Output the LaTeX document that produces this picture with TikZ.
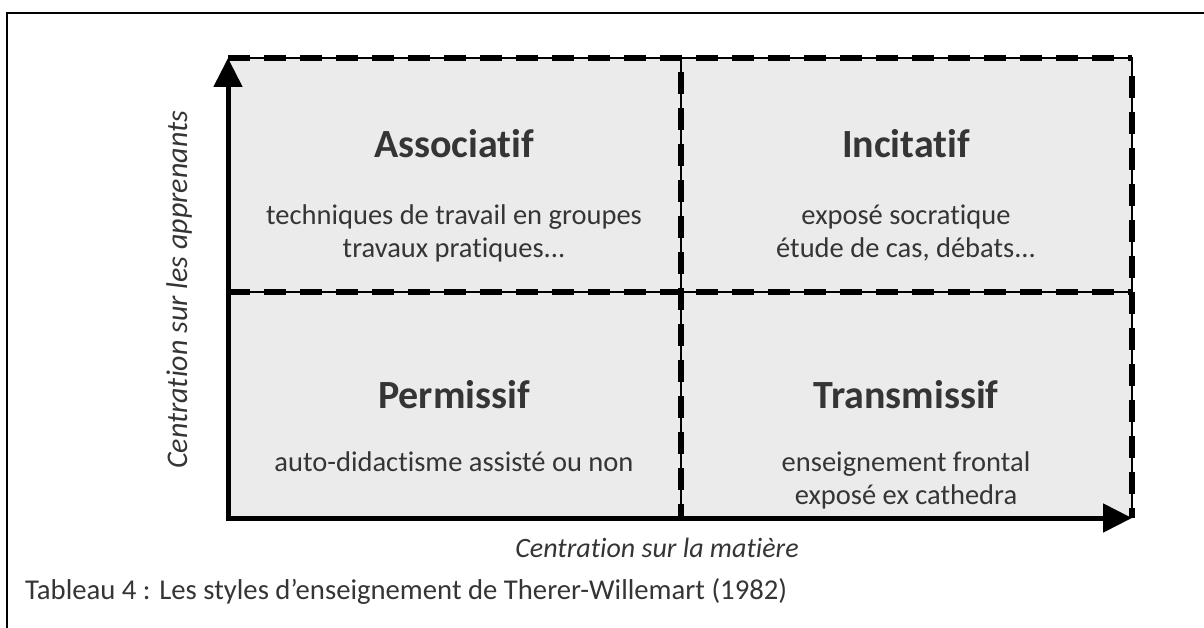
\documentclass[tikz,border=0pt]{standalone}
\usepackage{fontspec}
\setmainfont{Carlito}[Ligatures={NoCommon,NoContextual}]
\usetikzlibrary{arrows.meta}
\definecolor{cellgray}{HTML}{EBEBEB}
\definecolor{txt}{HTML}{353535}
\begin{document}
\begin{tikzpicture}[x=1pt,y=-1pt,
  thinline/.style={line width=1.5pt,black},
  dashline/.style={line width=6pt,black,dash pattern=on 22pt off 14pt},
  axisline/.style={line width=5pt,-{Triangle[length=29pt,width=28pt]}},
  qtitle/.style={font=\fontsize{40}{46}\selectfont\bfseries,text=txt,anchor=base,inner sep=0pt},
  qbody/.style={font=\fontsize{28.5}{33}\selectfont,text=txt,anchor=base,inner sep=0pt},
  axlabel/.style={font=\fontsize{28}{32}\selectfont\itshape,text=txt,anchor=base,inner sep=0pt},
  caption/.style={font=\fontsize{28.7}{32}\selectfont,text=txt,anchor=base west,inner sep=0pt},
]
\useasboundingbox (0,0) rectangle (1204,628);
\draw[line width=2pt] (7,628) -- (7,13) -- (1204,13);
% cells
\fill[cellgray] (228,58) rectangle (1132,518);
% corner coordinates
\coordinate (tl) at (228,58);
\coordinate (tm) at (681,58);
\coordinate (tr) at (1132,58);
\coordinate (ml) at (228,292);
\coordinate (mr) at (1132,292);
\coordinate (bl) at (228,518);
\coordinate (bm) at (681,518);
\coordinate (br) at (1132,518);
% thin underlying lines
\draw[thinline] (tl) -- (tr) -- (br);
\draw[thinline] (ml) -- (mr);
\draw[thinline] (tm) -- (bm);
% thick dashes
\draw[dashline] (tl) -- (tr);
\draw[dashline] (tr) ++(0,18) -- (br);
\draw[dashline] (ml) -- (mr);
\draw[dashline] (tm) ++(0,14) -- (bm);
% axes
\draw[axisline] (bl) -- (tl);
\draw[axisline] ([xshift=-2.5pt]bl) -- (br);
% texts
\node[qtitle] (t1) at (454,158) {Associatif};
\node[qbody] (b1a) at (454,225) {techniques de travail en groupes};
\node[qbody] (b1b) at (454,258) {travaux pratiques...};
\node[qtitle] (t2) at (906,158) {Incitatif};
\node[qbody] (b2a) at (906,225) {exposé socratique};
\node[qbody] (b2b) at (906,258) {étude de cas, débats...};
\node[qtitle] (t3) at (454,408) {Permissif};
\node[qbody] (b3a) at (454,471) {auto-didactisme assisté ou non};
\node[qtitle] (t4) at (906,408) {Transmissif};
\node[qbody] (b4a) at (906,471) {enseignement frontal};
\node[qbody] (b4b) at (906,504) {exposé ex cathedra};
\node[axlabel,font=\fontsize{30}{34}\selectfont\itshape,rotate=90] (ylab) at (187,290) {Centration sur les apprenants};
\node[axlabel] (xlab) at (657,557) {Centration sur la matière};
\node[caption] (cap) at (25,599) {Tableau 4 : Les styles d’enseignement de Therer-Willemart (1982)};
\end{tikzpicture}
\end{document}
